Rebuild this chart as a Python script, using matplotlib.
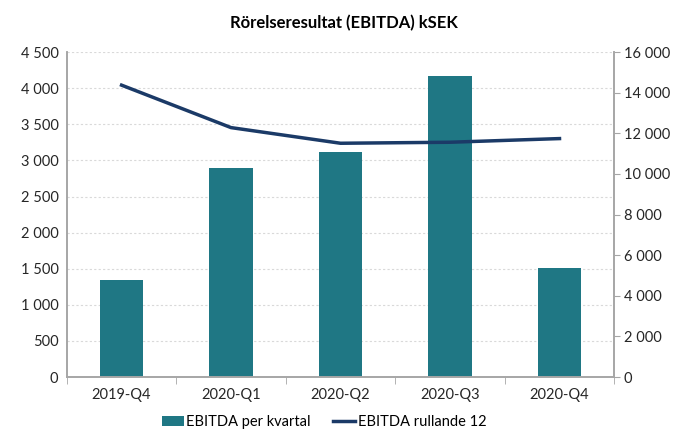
import matplotlib
matplotlib.use("Agg")
import matplotlib.pyplot as plt
from matplotlib.ticker import FuncFormatter, FixedLocator

categories = ["2019-Q4", "2020-Q1", "2020-Q2", "2020-Q3", "2020-Q4"]
ebitda_kvartal = [1340, 2890, 3120, 4170, 1515]
ebitda_rullande = [14370, 12280, 11510, 11560, 11740]

plt.rcParams['font.family'] = ['Lato', 'DejaVu Sans']

fig = plt.figure(figsize=(6.75, 4.3), dpi=100)
ax = fig.add_axes([0.099, 0.123, 0.811, 0.756])
ax2 = ax.twinx()

x = list(range(len(categories)))
bar_color = "#1F7784"
line_color = "#1B3A67"
grid_color = "#D9D9D9"
spine_color = "#A6A6A6"

bars = ax.bar(x, ebitda_kvartal, width=0.4, color=bar_color, zorder=2,
              label="EBITDA per kvartal")
line, = ax2.plot(x, ebitda_rullande, color=line_color, linewidth=2.5,
                 label="EBITDA rullande 12", zorder=3)

ax.set_xlim(-0.5, len(categories) - 0.5)
ax.set_ylim(0, 4500)
ax2.set_ylim(0, 16000)
ax.set_yticks(range(0, 4501, 500))
ax2.set_yticks(range(0, 16001, 2000))

fmt = FuncFormatter(lambda v, p: f"{int(v):,}".replace(",", " "))
ax.yaxis.set_major_formatter(fmt)
ax2.yaxis.set_major_formatter(fmt)

ax.set_xticks(x)
ax.set_xticklabels(categories)
ax.xaxis.set_minor_locator(FixedLocator([i - 0.5 for i in range(len(categories) + 1)]))
ax.tick_params(axis='x', which='major', length=0, pad=8, labelsize=10.5, colors="#262626")
ax.tick_params(axis='x', which='minor', length=5, color=spine_color, direction='out')
ax.tick_params(axis='y', length=0, labelsize=10.5, colors="#262626", pad=6)
ax2.tick_params(axis='y', length=4, color=spine_color, labelsize=10.5, colors="#262626", pad=3)

ax.yaxis.grid(True, color=grid_color, linestyle=(0, (2, 2)), linewidth=0.8, zorder=0)
ax.set_axisbelow(True)

for a in (ax, ax2):
    a.spines['top'].set_visible(False)
    for s in ('left', 'right', 'bottom'):
        a.spines[s].set_color(spine_color)
        a.spines[s].set_linewidth(1.2)

fig.suptitle("Rörelseresultat (EBITDA) kSEK", x=0.51, y=0.965, fontsize=12,
             fontweight='bold', color="#000000")

fig.legend([bars, line], ["EBITDA per kvartal", "EBITDA rullande 12"],
           loc='lower center', bbox_to_anchor=(0.48, -0.028), ncol=2, frameon=False,
           fontsize=10.5, handlelength=1.5, handletextpad=0.2, columnspacing=1.5)

fig.savefig("out.png", dpi=100)
